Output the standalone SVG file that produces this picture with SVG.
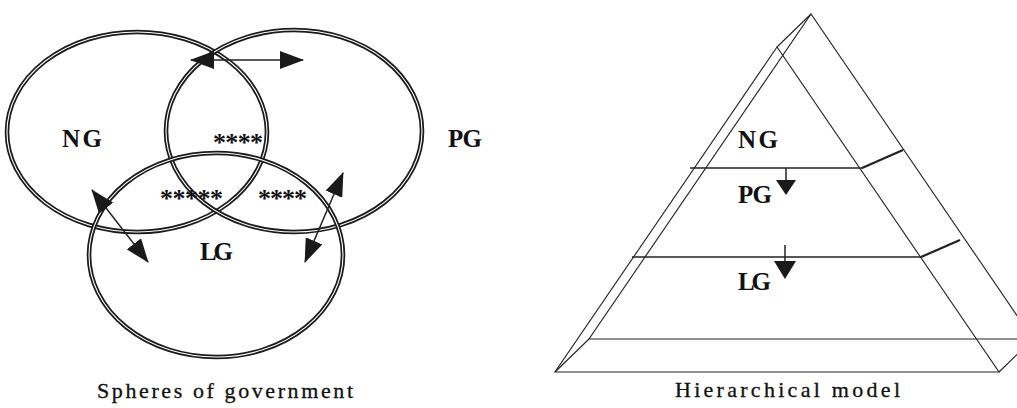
<svg xmlns="http://www.w3.org/2000/svg" width="1017" height="408" viewBox="0 0 1017 408">
<style>
.ring{fill:none;stroke:#1a1a1a;stroke-width:4.6}
.ringgap{fill:none;stroke:#fff;stroke-width:1.1}
.lbl{font-family:"Liberation Serif",serif;font-weight:bold;font-size:25px;fill:#111}
.star{font-family:"Liberation Serif",serif;font-weight:bold;font-size:26px;fill:#111}
.cap{font-family:"Liberation Serif",serif;font-size:22px;fill:#111;stroke:#111;stroke-width:0.3}
.edge{fill:none;stroke:#222;stroke-width:1.1}
.tier{fill:none;stroke:#222;stroke-width:1.4}
.link{fill:none;stroke:#222;stroke-width:2.2}
.arr{fill:none;stroke:#222;stroke-width:1.5}
.head{fill:#1a1a1a}
</style>
<defs>
<marker id="ah" markerUnits="userSpaceOnUse" markerWidth="24" markerHeight="18" refX="23" refY="9" orient="auto-start-reverse" viewBox="0 0 24 18">
<path class="head" d="M0,0 L24,9 L0,18 Z"/>
</marker>
</defs>

<g id="sphere-NG">
<ellipse class="ring" cx="137" cy="132" rx="130" ry="100"/>
<ellipse class="ringgap" cx="137" cy="132" rx="130" ry="100"/>
<text class="lbl" x="62" y="147" textLength="40">NG</text>
</g>
<g id="sphere-PG">
<ellipse class="ring" cx="294" cy="131" rx="128" ry="101"/>
<ellipse class="ringgap" cx="294" cy="131" rx="128" ry="101"/>
<text class="lbl" x="448" y="147" textLength="34">PG</text>
</g>
<g id="sphere-LG">
<ellipse class="ring" cx="216" cy="255" rx="127" ry="102"/>
<ellipse class="ringgap" cx="216" cy="255" rx="127" ry="102"/>
<text class="lbl" x="200" y="260" textLength="33">LG</text>
</g>
<g id="overlaps">
<text class="star" x="213" y="151" textLength="50">****</text>
<text class="star" x="160" y="207" textLength="63">*****</text>
<text class="star" x="258" y="207" textLength="49">****</text>
</g>

<g id="connectors">
<line class="arr" x1="191" y1="60" x2="303" y2="60" marker-start="url(#ah)" marker-end="url(#ah)"/>
<line class="arr" x1="92" y1="190" x2="148" y2="262" marker-start="url(#ah)" marker-end="url(#ah)"/>
<line class="arr" x1="343" y1="173" x2="305" y2="262" marker-start="url(#ah)" marker-end="url(#ah)"/>
<line class="arr" x1="786" y1="168" x2="786" y2="182"/>
<polygon class="head" points="776,180 796,180 786,195"/>
<line class="arr" x1="785" y1="245" x2="785" y2="263"/>
<polygon class="head" points="774,261 796,261 785,279"/>
</g>

<g id="pyramid">
<polygon class="edge" points="777,47 555,372 999,372"/>
<polyline class="edge" points="1033,339 811,14 589,339 1033,339"/>
<line class="edge" x1="811" y1="14" x2="777" y2="47"/>
<line class="edge" x1="589" y1="339" x2="555" y2="372"/>
<line class="edge" x1="999" y1="372" x2="1033" y2="339"/>
</g>
<g id="tier-NG">
<text class="lbl" x="738" y="148" textLength="40">NG</text>
</g>
<g id="tier-PG">
<line class="tier" x1="690" y1="168" x2="863" y2="168"/>
<line class="link" x1="862" y1="168" x2="903" y2="150"/>
<text class="lbl" x="738" y="203" textLength="34">PG</text>
</g>
<g id="tier-LG">
<line class="tier" x1="632" y1="257" x2="922" y2="257"/>
<line class="link" x1="921" y1="257" x2="960" y2="240"/>
<text class="lbl" x="738" y="290" textLength="33">LG</text>
</g>

<g id="captions">
<text class="cap" x="97" y="398" textLength="256">Spheres of government</text>
<text class="cap" x="675" y="397" textLength="225">Hierarchical model</text>
</g>
</svg>
